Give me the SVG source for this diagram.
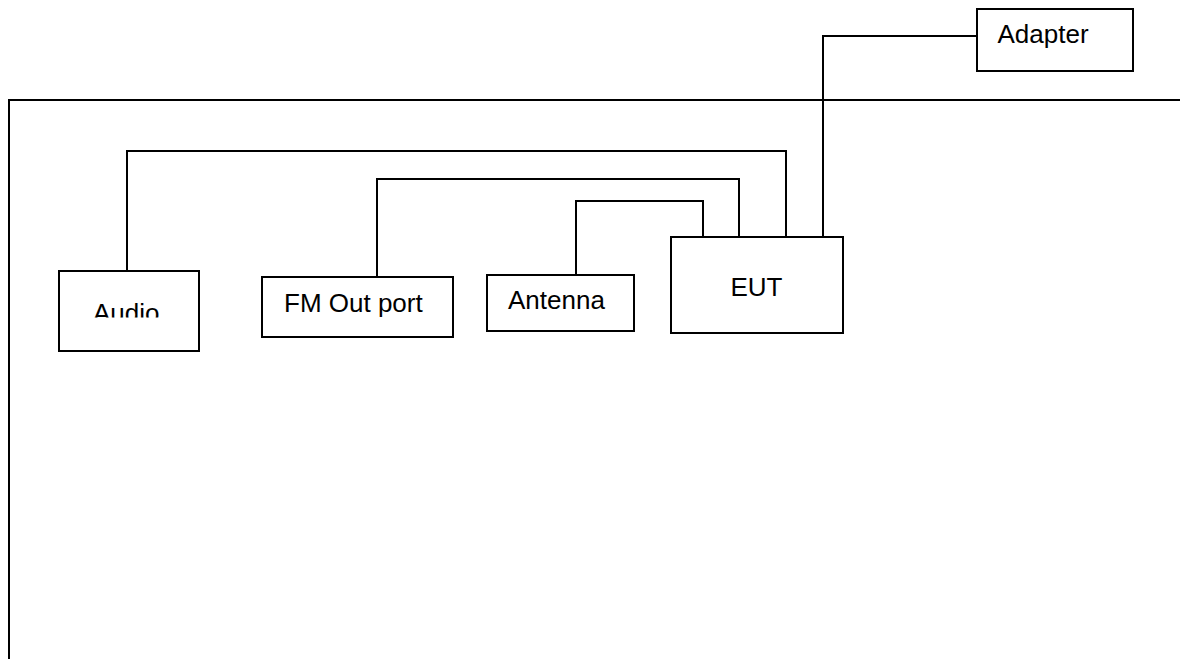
<svg xmlns="http://www.w3.org/2000/svg" width="1180" height="659" viewBox="0 0 1180 659">
<style>
.box{fill:#fff;stroke:#000;stroke-width:2}
.wire{fill:none;stroke:#000;stroke-width:2}
.lbl{font-family:"Liberation Sans",Arial,sans-serif;font-size:26px;fill:#000}
</style>
<defs>
<clipPath id="audioClip"><rect x="60" y="272" width="138" height="45.5"/></clipPath>
</defs>
<rect width="1180" height="659" fill="#fff"/>
<g id="frame"><path class="wire" d="M9,659 V100 H1180"/></g>
<g id="connectors">
<path class="wire" d="M127,272 V151 H786 V237"/>
<path class="wire" d="M377,277 V179 H739 V237"/>
<path class="wire" d="M576,275 V201 H703 V237"/>
<path class="wire" d="M823,237 V36 H978"/>
</g>
<g id="audio"><rect class="box" x="59" y="271" width="140" height="80"/><text class="lbl" x="93" y="321.5" clip-path="url(#audioClip)">Audio</text></g>
<g id="fm"><rect class="box" x="262" y="277" width="191" height="60"/><text class="lbl" x="284" y="312.3">FM Out port</text></g>
<g id="antenna"><rect class="box" x="487" y="275" width="147" height="56"/><text class="lbl" x="508" y="309.3">Antenna</text></g>
<g id="eut"><rect class="box" x="671" y="237" width="172" height="96"/><text class="lbl" x="730.5" y="296">EUT</text></g>
<g id="adapter"><rect class="box" x="977" y="9" width="156" height="62"/><text class="lbl" x="997.5" y="43.3">Adapter</text></g>
</svg>
